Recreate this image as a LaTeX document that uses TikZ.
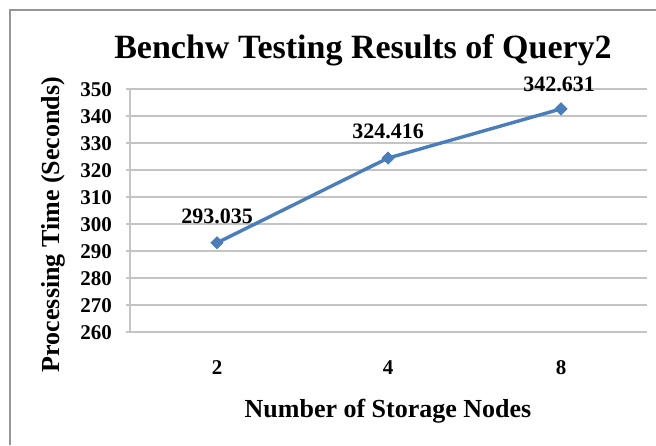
\documentclass[tikz,border=0pt]{standalone}
\usepackage{fontspec}
\setmainfont{Liberation Serif}
\usetikzlibrary{shapes.geometric}
\definecolor{seriesblue}{RGB}{74,126,187}
\definecolor{gridgray}{RGB}{196,196,196}
\definecolor{framegray}{RGB}{150,150,150}
\begin{document}
\begin{tikzpicture}[x=1pt,y=-1pt,
  txt/.style={inner sep=0pt,font=\bfseries},
  titletxt/.style={txt,font=\fontsize{34}{40}\selectfont\bfseries},
  axistitle/.style={txt,font=\fontsize{26}{30}\selectfont\bfseries},
  ticklbl/.style={txt,font=\fontsize{21}{24}\selectfont\bfseries},
  datalbl/.style={txt,font=\fontsize{22}{26}\selectfont\bfseries},
  gridline/.style={draw=gridgray,line width=1.8pt},
  series/.style={draw=seriesblue,line width=3.4pt},
  marker/.style={diamond,fill=seriesblue,inner sep=0pt,minimum size=13pt}]
\useasboundingbox (0,0) rectangle (656,445);
\fill[white] (0,0) rectangle (656,445);
% chart frame (cut at the right and bottom edges)
\draw[framegray,line width=1.8pt] (10,445) -- (10,10) -- (656,10);
% title
\node[titletxt,anchor=base] (title) at (363,58) {Benchw Testing Results of Query2};
% value axis: gridlines, ticks and labels
\foreach \v in {260,270,...,350}{
  \pgfmathsetmacro{\yy}{332-2.7*(\v-260)}
  \draw[gridline] (126,\yy) -- (647,\yy);
  \node[ticklbl,anchor=base east] (t\v) at (112,\yy+7) {\v};
}
\draw[gridline] (130,332) -- (130,89);
% category labels
\node[ticklbl,anchor=base] (c2) at (217,374) {2};
\node[ticklbl,anchor=base] (c4) at (388,374) {4};
\node[ticklbl,anchor=base] (c8) at (561,374) {8};
% axis titles
\node[axistitle,anchor=base] (xt) at (388,417) {Number of Storage Nodes};
\node[axistitle,anchor=base,rotate=90] (yt) at (59,224.5) {Processing Time (Seconds)};
% data series
\begin{scope}[shift={(0,332)},y=2.7pt]
  \node[marker] (p2) at (217,33.035) {};
  \node[marker] (p4) at (388,64.416) {};
  \node[marker] (p8) at (561,82.631) {};
\end{scope}
\draw[series] (p2.center) -- (p4.center) -- (p8.center);
\node[marker] at (p2) {};
\node[marker] at (p4) {};
\node[marker] at (p8) {};
% data labels
\node[datalbl,anchor=base] (l2) at (217,223) {293.035};
\node[datalbl,anchor=base] (l4) at (388,138) {324.416};
\node[datalbl,anchor=base] (l8) at (559,91) {342.631};
\end{tikzpicture}
\end{document}
